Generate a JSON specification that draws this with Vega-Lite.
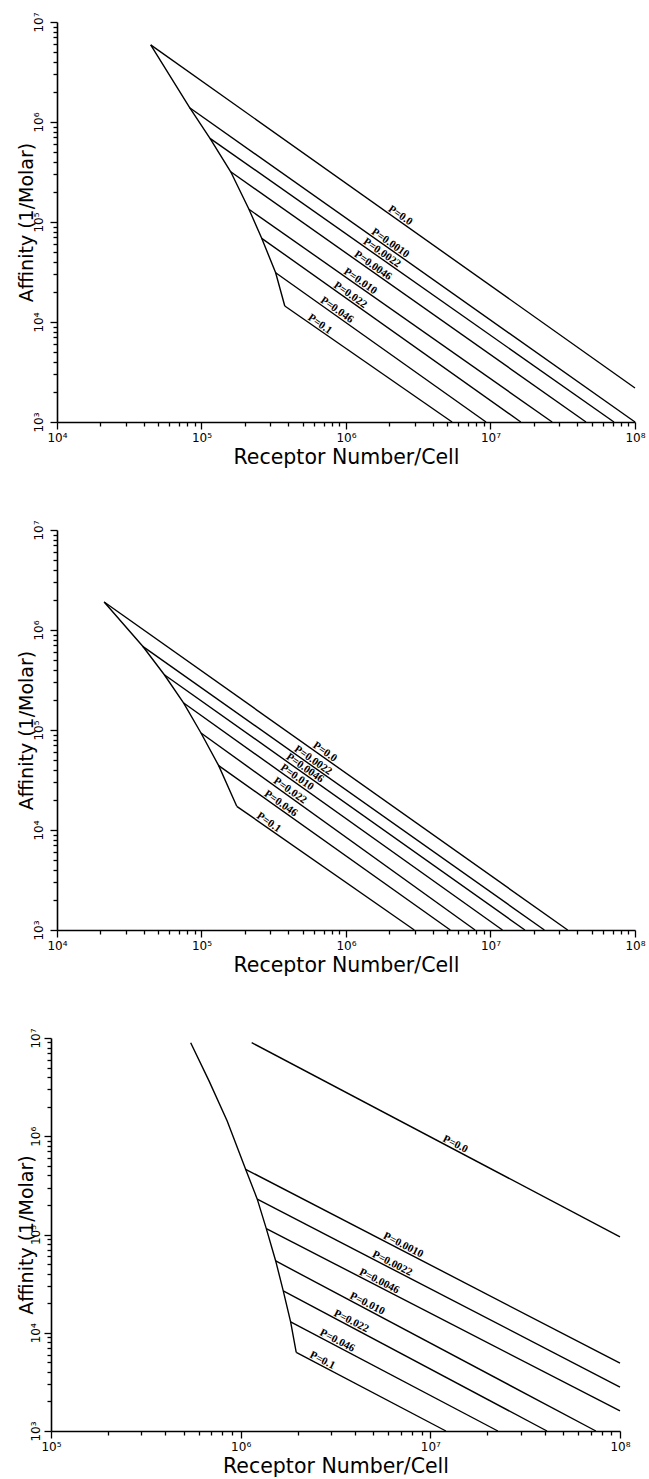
{
  "$schema": "https://vega.github.io/schema/vega-lite/v6.json",
  "padding": {"top": 11, "left": 17, "right": 8, "bottom": 2},
  "background": "white",
  "bounds": "full",
  "spacing": 51,
  "config": {
    "view": {"stroke": null},
    "axis": {
      "grid": false,
      "domainColor": "black",
      "domainWidth": 1.6,
      "tickColor": "black",
      "tickWidth": 1.3,
      "labelColor": "black",
      "labelFont": "DejaVu Sans",
      "labelFontSize": 12,
      "labelOverlap": false,
      "labelFlush": false,
      "titleColor": "black",
      "titleFont": "DejaVu Sans",
      "titleFontSize": 19,
      "titleFontWeight": "normal"
    },
    "axisX": {"labelPadding": 3, "titlePadding": 4, "titleFontSize": 20.5},
    "axisY": {"labelAngle": -90, "labelAlign": "center", "labelBaseline": "bottom", "labelPadding": 5, "titlePadding": -4},
    "text": {"angle": 35, "font": "Liberation Serif", "fontWeight": "bold", "fontSize": 11, "align": "center", "baseline": "alphabetic", "dy": -2, "color": "black"}
  },
  "datasets": {
    "lines1": [
      {"s": "env", "i": 0, "x": 44500, "y": 5900000},
      {"s": "env", "i": 1, "x": 82800, "y": 1390000},
      {"s": "env", "i": 2, "x": 114500, "y": 687000},
      {"s": "env", "i": 3, "x": 159300, "y": 318000},
      {"s": "env", "i": 4, "x": 213000, "y": 134000},
      {"s": "env", "i": 5, "x": 261000, "y": 68700},
      {"s": "env", "i": 6, "x": 326000, "y": 31100},
      {"s": "env", "i": 7, "x": 377000, "y": 14450},
      {"s": "P0", "i": 0, "x": 44500, "y": 5900000},
      {"s": "P0", "i": 1, "x": 100000000, "y": 2190},
      {"s": "P0010", "i": 0, "x": 82800, "y": 1390000},
      {"s": "P0010", "i": 1, "x": 100000000, "y": 1000},
      {"s": "P0022", "i": 0, "x": 114500, "y": 687000},
      {"s": "P0022", "i": 1, "x": 71500000, "y": 1000},
      {"s": "P0046", "i": 0, "x": 159300, "y": 318000},
      {"s": "P0046", "i": 1, "x": 45800000, "y": 1000},
      {"s": "P010", "i": 0, "x": 213000, "y": 134000},
      {"s": "P010", "i": 1, "x": 26700000, "y": 1000},
      {"s": "P022", "i": 0, "x": 261000, "y": 68700},
      {"s": "P022", "i": 1, "x": 16200000, "y": 1000},
      {"s": "P046", "i": 0, "x": 326000, "y": 31100},
      {"s": "P046", "i": 1, "x": 9310000, "y": 1000},
      {"s": "P1", "i": 0, "x": 377000, "y": 14450},
      {"s": "P1", "i": 1, "x": 5420000, "y": 1000}
    ],
    "labels1": [
      {"t": "P=0.0", "x": 2268000, "y": 105400},
      {"t": "P=0.0010", "x": 1934000, "y": 55800},
      {"t": "P=0.0022", "x": 1692000, "y": 44700},
      {"t": "P=0.0046", "x": 1466000, "y": 33300},
      {"t": "P=0.010", "x": 1199000, "y": 23200},
      {"t": "P=0.022", "x": 1023000, "y": 16940},
      {"t": "P=0.046", "x": 826000, "y": 11990},
      {"t": "P=0.1", "x": 630000, "y": 8630}
    ],
    "lines2": [
      {"s": "env", "i": 0, "x": 21200, "y": 1905000},
      {"s": "env", "i": 1, "x": 39200, "y": 687000},
      {"s": "env", "i": 2, "x": 55300, "y": 357000},
      {"s": "env", "i": 3, "x": 75300, "y": 186000},
      {"s": "env", "i": 4, "x": 99200, "y": 93300},
      {"s": "env", "i": 5, "x": 131500, "y": 44000},
      {"s": "env", "i": 6, "x": 175400, "y": 17250},
      {"s": "P0", "i": 0, "x": 21200, "y": 1905000},
      {"s": "P0", "i": 1, "x": 34200000, "y": 1000},
      {"s": "P0022", "i": 0, "x": 39200, "y": 687000},
      {"s": "P0022", "i": 1, "x": 23600000, "y": 1000},
      {"s": "P0046", "i": 0, "x": 55300, "y": 357000},
      {"s": "P0046", "i": 1, "x": 17300000, "y": 1000},
      {"s": "P010", "i": 0, "x": 75300, "y": 186000},
      {"s": "P010", "i": 1, "x": 12100000, "y": 1000},
      {"s": "P022", "i": 0, "x": 99200, "y": 93300},
      {"s": "P022", "i": 1, "x": 7820000, "y": 1000},
      {"s": "P046", "i": 0, "x": 131500, "y": 44000},
      {"s": "P046", "i": 1, "x": 5270000, "y": 1000},
      {"s": "P1", "i": 0, "x": 175400, "y": 17250},
      {"s": "P1", "i": 1, "x": 2970000, "y": 1000}
    ],
    "labels2": [
      {"t": "P=0.0", "x": 682000, "y": 54800},
      {"t": "P=0.0022", "x": 564000, "y": 45200},
      {"t": "P=0.0046", "x": 496000, "y": 37800},
      {"t": "P=0.010", "x": 437000, "y": 30500},
      {"t": "P=0.022", "x": 391000, "y": 22500},
      {"t": "P=0.046", "x": 338000, "y": 16700},
      {"t": "P=0.1", "x": 279000, "y": 10800}
    ],
    "lines3": [
      {"s": "env", "i": 0, "x": 545000, "y": 8960000},
      {"s": "env", "i": 1, "x": 681000, "y": 3660000},
      {"s": "env", "i": 2, "x": 849000, "y": 1430000},
      {"s": "env", "i": 3, "x": 1062000, "y": 461000},
      {"s": "env", "i": 4, "x": 1223000, "y": 229000},
      {"s": "env", "i": 5, "x": 1365000, "y": 114800},
      {"s": "env", "i": 6, "x": 1530000, "y": 53800},
      {"s": "env", "i": 7, "x": 1677000, "y": 26700},
      {"s": "env", "i": 8, "x": 1834000, "y": 12900},
      {"s": "env", "i": 9, "x": 1963000, "y": 6300},
      {"s": "P0", "i": 0, "x": 1143000, "y": 8960000},
      {"s": "P0", "i": 1, "x": 100000000, "y": 94600},
      {"s": "P0010", "i": 0, "x": 1062000, "y": 461000},
      {"s": "P0010", "i": 1, "x": 100000000, "y": 4900},
      {"s": "P0022", "i": 0, "x": 1223000, "y": 229000},
      {"s": "P0022", "i": 1, "x": 100000000, "y": 2800},
      {"s": "P0046", "i": 0, "x": 1365000, "y": 114800},
      {"s": "P0046", "i": 1, "x": 100000000, "y": 1600},
      {"s": "P010", "i": 0, "x": 1530000, "y": 53800},
      {"s": "P010", "i": 1, "x": 74600000, "y": 1000},
      {"s": "P022", "i": 0, "x": 1677000, "y": 26700},
      {"s": "P022", "i": 1, "x": 41200000, "y": 1000},
      {"s": "P046", "i": 0, "x": 1834000, "y": 12900},
      {"s": "P046", "i": 1, "x": 22700000, "y": 1000},
      {"s": "P1", "i": 0, "x": 1963000, "y": 6300},
      {"s": "P1", "i": 1, "x": 12080000, "y": 1000}
    ],
    "labels3": [
      {"t": "P=0.0", "x": 13160000, "y": 745000},
      {"t": "P=0.0010", "x": 7000000, "y": 70000},
      {"t": "P=0.0022", "x": 6120000, "y": 45600},
      {"t": "P=0.0046", "x": 5230000, "y": 30100},
      {"t": "P=0.010", "x": 4520000, "y": 17740},
      {"t": "P=0.022", "x": 3720000, "y": 11780},
      {"t": "P=0.046", "x": 3140000, "y": 7480},
      {"t": "P=0.1", "x": 2620000, "y": 4700}
    ]
  },
  "vconcat": [
    {
      "width": 578,
      "height": 400,
      "layer": [
        {
          "data": {"name": "lines1"},
          "mark": {"type": "line", "color": "black", "strokeWidth": 1.4},
          "encoding": {
            "x": {"field": "x", "type": "quantitative", "scale": {"type": "log", "domain": [10000, 100000000]},
              "axis": {"title": "Receptor Number/Cell",
                "values": [10000,20000,30000,40000,50000,60000,70000,80000,90000,100000,200000,300000,400000,500000,600000,700000,800000,900000,1000000,2000000,3000000,4000000,5000000,6000000,7000000,8000000,9000000,10000000,20000000,30000000,40000000,50000000,60000000,70000000,80000000,90000000,100000000],
                "labelExpr": "abs(log(datum.value)/LN10 - round(log(datum.value)/LN10)) < 0.01 ? '10' + ['⁰','¹','²','³','⁴','⁵','⁶','⁷','⁸','⁹'][round(log(datum.value)/LN10)] : ''",
                "tickSize": {"condition": {"test": "abs(log(datum.value)/LN10 - round(log(datum.value)/LN10)) < 0.01", "value": 7}, "value": 4}}},
            "y": {"field": "y", "type": "quantitative", "scale": {"type": "log", "domain": [1000, 10000000]},
              "axis": {"title": "Affinity (1/Molar)",
                "values": [1000,2000,3000,4000,5000,6000,7000,8000,9000,10000,20000,30000,40000,50000,60000,70000,80000,90000,100000,200000,300000,400000,500000,600000,700000,800000,900000,1000000,2000000,3000000,4000000,5000000,6000000,7000000,8000000,9000000,10000000],
                "labelExpr": "abs(log(datum.value)/LN10 - round(log(datum.value)/LN10)) < 0.01 ? '10' + ['⁰','¹','²','³','⁴','⁵','⁶','⁷','⁸','⁹'][round(log(datum.value)/LN10)] : ''",
                "tickSize": {"condition": {"test": "abs(log(datum.value)/LN10 - round(log(datum.value)/LN10)) < 0.01", "value": 7}, "value": 4}}},
            "detail": {"field": "s"},
            "order": {"field": "i"}
          }
        },
        {
          "data": {"name": "labels1"},
          "mark": {"type": "text"},
          "encoding": {
            "x": {"field": "x", "type": "quantitative", "scale": {"type": "log", "domain": [10000, 100000000]}},
            "y": {"field": "y", "type": "quantitative", "scale": {"type": "log", "domain": [1000, 10000000]}},
            "text": {"field": "t"}
          }
        }
      ]
    },
    {
      "width": 578,
      "height": 400,
      "layer": [
        {
          "data": {"name": "lines2"},
          "mark": {"type": "line", "color": "black", "strokeWidth": 1.4},
          "encoding": {
            "x": {"field": "x", "type": "quantitative", "scale": {"type": "log", "domain": [10000, 100000000]},
              "axis": {"title": "Receptor Number/Cell",
                "values": [10000,20000,30000,40000,50000,60000,70000,80000,90000,100000,200000,300000,400000,500000,600000,700000,800000,900000,1000000,2000000,3000000,4000000,5000000,6000000,7000000,8000000,9000000,10000000,20000000,30000000,40000000,50000000,60000000,70000000,80000000,90000000,100000000],
                "labelExpr": "abs(log(datum.value)/LN10 - round(log(datum.value)/LN10)) < 0.01 ? '10' + ['⁰','¹','²','³','⁴','⁵','⁶','⁷','⁸','⁹'][round(log(datum.value)/LN10)] : ''",
                "tickSize": {"condition": {"test": "abs(log(datum.value)/LN10 - round(log(datum.value)/LN10)) < 0.01", "value": 7}, "value": 4}}},
            "y": {"field": "y", "type": "quantitative", "scale": {"type": "log", "domain": [1000, 10000000]},
              "axis": {"title": "Affinity (1/Molar)",
                "values": [1000,2000,3000,4000,5000,6000,7000,8000,9000,10000,20000,30000,40000,50000,60000,70000,80000,90000,100000,200000,300000,400000,500000,600000,700000,800000,900000,1000000,2000000,3000000,4000000,5000000,6000000,7000000,8000000,9000000,10000000],
                "labelExpr": "abs(log(datum.value)/LN10 - round(log(datum.value)/LN10)) < 0.01 ? '10' + ['⁰','¹','²','³','⁴','⁵','⁶','⁷','⁸','⁹'][round(log(datum.value)/LN10)] : ''",
                "tickSize": {"condition": {"test": "abs(log(datum.value)/LN10 - round(log(datum.value)/LN10)) < 0.01", "value": 7}, "value": 4}}},
            "detail": {"field": "s"},
            "order": {"field": "i"}
          }
        },
        {
          "data": {"name": "labels2"},
          "mark": {"type": "text"},
          "encoding": {
            "x": {"field": "x", "type": "quantitative", "scale": {"type": "log", "domain": [10000, 100000000]}},
            "y": {"field": "y", "type": "quantitative", "scale": {"type": "log", "domain": [1000, 10000000]}},
            "text": {"field": "t"}
          }
        }
      ]
    },
    {
      "width": 569,
      "height": 393,
      "layer": [
        {
          "data": {"name": "lines3"},
          "mark": {"type": "line", "color": "black", "strokeWidth": 1.4},
          "encoding": {
            "x": {"field": "x", "type": "quantitative", "scale": {"type": "log", "domain": [100000, 100000000], "range": [-6, 563]},
              "axis": {"title": "Receptor Number/Cell",
                "values": [100000,200000,300000,400000,500000,600000,700000,800000,900000,1000000,2000000,3000000,4000000,5000000,6000000,7000000,8000000,9000000,10000000,20000000,30000000,40000000,50000000,60000000,70000000,80000000,90000000,100000000],
                "labelExpr": "abs(log(datum.value)/LN10 - round(log(datum.value)/LN10)) < 0.01 ? '10' + ['⁰','¹','²','³','⁴','⁵','⁶','⁷','⁸','⁹'][round(log(datum.value)/LN10)] : ''",
                "tickSize": {"condition": {"test": "abs(log(datum.value)/LN10 - round(log(datum.value)/LN10)) < 0.01", "value": 7}, "value": 4}}},
            "y": {"field": "y", "type": "quantitative", "scale": {"type": "log", "domain": [1000, 10000000]},
              "axis": {"title": "Affinity (1/Molar)", "offset": 6, "labelPadding": 2, "titlePadding": -7,
                "values": [1000,2000,3000,4000,5000,6000,7000,8000,9000,10000,20000,30000,40000,50000,60000,70000,80000,90000,100000,200000,300000,400000,500000,600000,700000,800000,900000,1000000,2000000,3000000,4000000,5000000,6000000,7000000,8000000,9000000,10000000],
                "labelExpr": "abs(log(datum.value)/LN10 - round(log(datum.value)/LN10)) < 0.01 ? '10' + ['⁰','¹','²','³','⁴','⁵','⁶','⁷','⁸','⁹'][round(log(datum.value)/LN10)] : ''",
                "tickSize": {"condition": {"test": "abs(log(datum.value)/LN10 - round(log(datum.value)/LN10)) < 0.01", "value": 7}, "value": 4}}},
            "detail": {"field": "s"},
            "order": {"field": "i"}
          }
        },
        {
          "data": {"name": "labels3"},
          "mark": {"type": "text", "angle": 27},
          "encoding": {
            "x": {"field": "x", "type": "quantitative", "scale": {"type": "log", "domain": [100000, 100000000], "range": [-6, 563]}},
            "y": {"field": "y", "type": "quantitative", "scale": {"type": "log", "domain": [1000, 10000000]}},
            "text": {"field": "t"}
          }
        }
      ]
    }
  ]
}
